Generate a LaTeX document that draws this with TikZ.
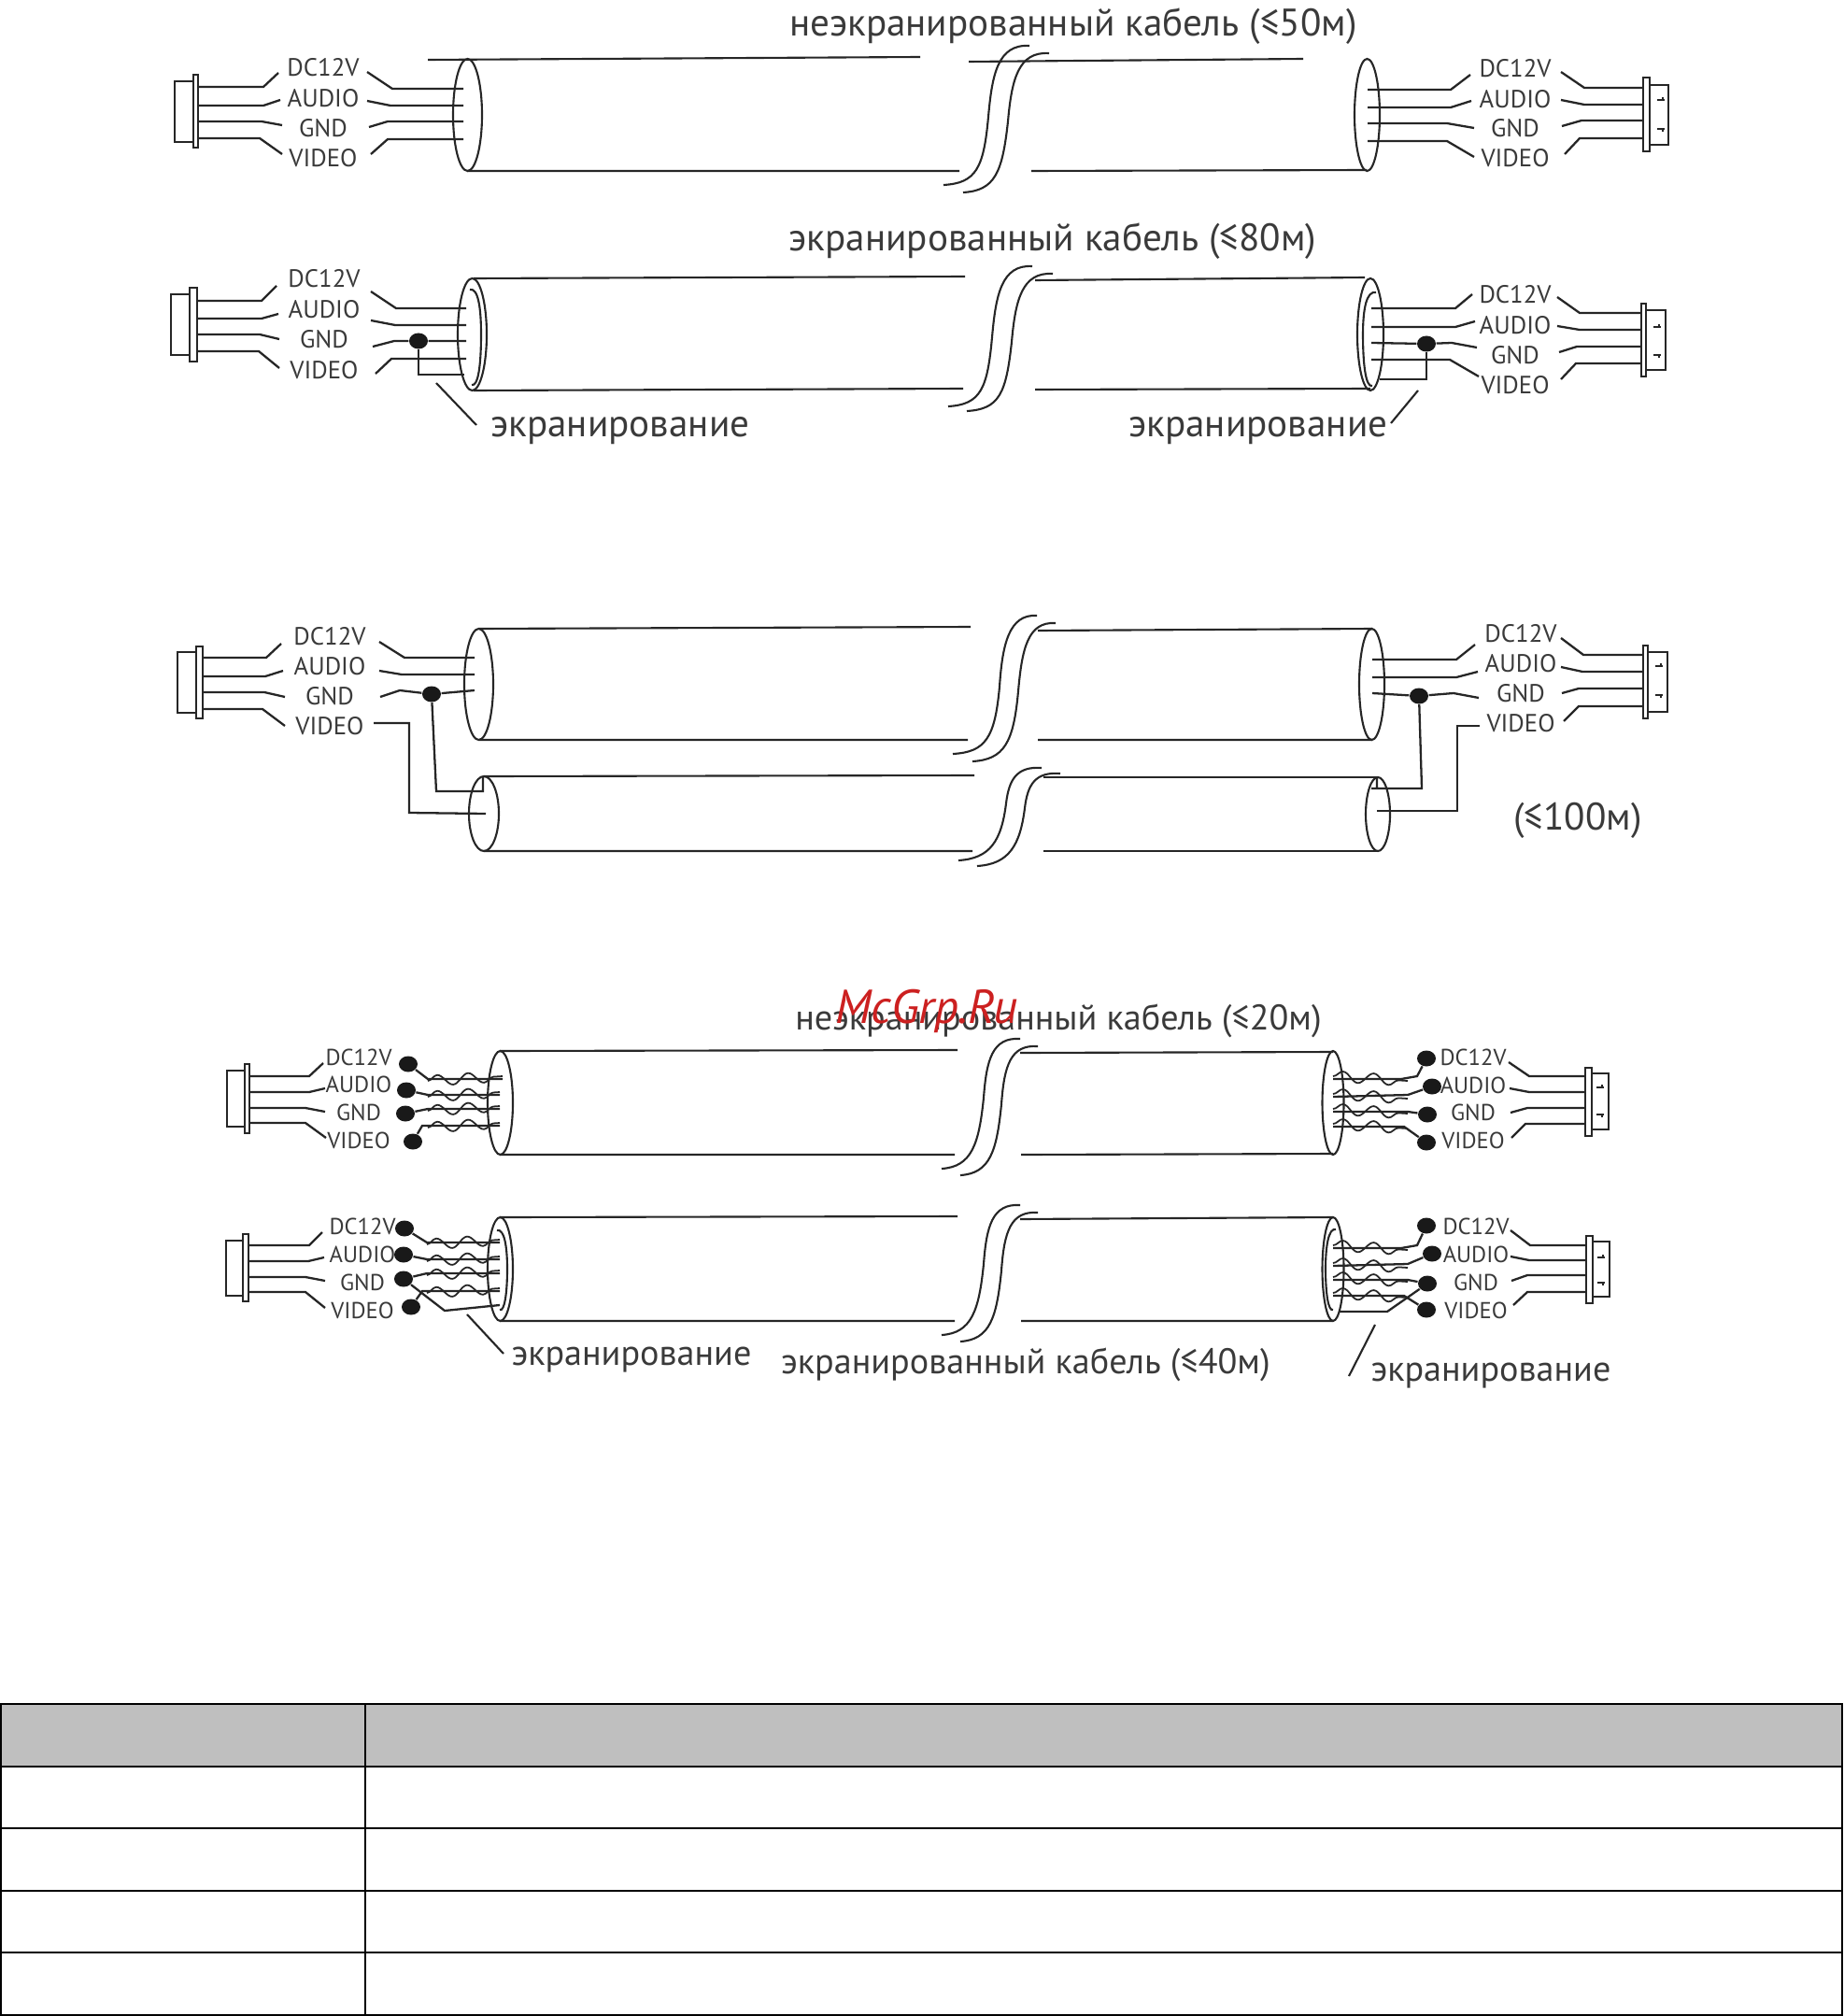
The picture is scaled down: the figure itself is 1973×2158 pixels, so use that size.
\documentclass[tikz,border=0pt]{standalone}
\usepackage{fontspec}
\setmainfont{PT Sans}
\usetikzlibrary{shapes.geometric,decorations.pathmorphing}
\definecolor{inkgrey}{HTML}{3A3A3A}
\definecolor{headgrey}{HTML}{BFBFBF}
\definecolor{markred}{HTML}{CC2020}
\tikzset{
  wire/.style={line width=0.65pt,color=black!85},
  cable/.style={line width=0.6pt,color=black!85},
  twist/.style={line width=0.5pt,color=black!85,decorate,decoration={snake,amplitude=1.6pt,segment length=9.4pt}},
  lbl/.style={inner sep=0pt,text=inkgrey,font=\fontsize{7.6}{9}\selectfont},
  lblsmall/.style={inner sep=0pt,text=inkgrey,font=\fontsize{7}{8}\selectfont},
  bigtext/.style={inner sep=0pt,text=inkgrey,font=\fontsize{11.7}{14}\selectfont},
  midtext/.style={inner sep=0pt,text=inkgrey,font=\fontsize{10.85}{13}\selectfont},
  solder/.style={ellipse,fill=black!90,inner sep=0pt,minimum width=0.2cm,minimum height=0.17cm},
  rule/.style={line width=0.6pt,color=black}
}
\begin{document}
\begin{tikzpicture}[x=0.01cm,y=-0.01cm]
\useasboundingbox (0,0) rectangle (1973,2158);

\node[bigtext] (titlea) at (1149,28) {неэкранированный кабель (≤50м)};
\draw[cable] (187,87) rectangle (207,152) (207,80) rectangle (212,158);
\draw[wire] (212,93)--(282,93)--(298,78) (212,113)--(282,113)--(300,107) (212,130)--(280,130)--(302,134) (212,148)--(278,148)--(302,165);
\node[lbl] (dca) at (346,72) {DC12V};
\node[lbl] (audioa) at (346,105) {AUDIO};
\node[lbl] (gnda) at (346,137) {GND};
\node[lbl] (videoa) at (346,169) {VIDEO};
\draw[wire] (393,77)--(420,95)--(496,95) (393,108)--(418,113)--(496,113) (395,136)--(415,130)--(496,130) (397,165)--(415,149)--(496,149);
\draw[cable] (500.5,123) ellipse (15.5 and 60);
\draw[cable] (458,64)--(985,61) (500,183)--(1027,183) (1037,66)--(1395,63) (1104,183)--(1463,182);
\draw[cable] (1102,49) .. controls (1068,47) and (1062,80) .. (1058,125) .. controls (1053,180) and (1045,196) .. (1010,198);
\draw[cable] (1123,57) .. controls (1090,55) and (1083,85) .. (1079,130) .. controls (1073,185) and (1065,204) .. (1031,206);
\draw[cable] (1463.5,123) ellipse (13.5 and 60);
\draw[wire] (1464,96)--(1553,96)--(1574,80) (1464,115)--(1553,115)--(1575,108) (1464,132)--(1549,132)--(1578,137) (1464,151)--(1549,151)--(1578,168);
\node[lbl] (dcb) at (1622,73) {DC12V};
\node[lbl] (audiob) at (1622,106) {AUDIO};
\node[lbl] (gndb) at (1622,137) {GND};
\node[lbl] (videob) at (1622,169) {VIDEO};
\draw[wire] (1671,77)--(1696,94)--(1759,94) (1671,107)--(1696,112)--(1759,112) (1672,135)--(1693,129)--(1759,129) (1675,165)--(1691,148)--(1759,148);
\draw[cable] (1759,83) rectangle (1766,162) (1766,91) rectangle (1786,155);
\draw[wire] (1774,107)--(1782,107) (1780,104)--(1780,107) (1774,138)--(1782,138) (1780,138)--(1780,141);

\node[bigtext] (titleb) at (1127,258) {экранированный кабель (≤80м)};
\draw[cable] (183,315) rectangle (203,380) (203,308) rectangle (211,387);
\draw[wire] (211,322)--(280,322)--(296,306) (211,341)--(280,341)--(298,336) (211,358)--(278,358)--(299,363) (211,376)--(277,376)--(299,394);
\node[lbl] (dcc) at (347,298) {DC12V};
\node[lbl] (audioc) at (347,331) {AUDIO};
\node[lbl] (gndc) at (347,363) {GND};
\node[lbl] (videoc) at (347,396) {VIDEO};
\node[solder] (dotc) at (448,365) {};
\draw[wire] (397,312)--(424,330)--(499,330) (397,343)--(423,348)--(499,348) (399,371)--(422,365)--(dotc)--(499,365) (402,400)--(419,384)--(499,384);
\draw[wire] (dotc)--(448,401)--(497,401);
\draw[cable] (505.5,358) ellipse (15.5 and 60);
\draw[cable] (503,310) .. controls (512,308) and (515,330) .. (515,358) .. controls (515,390) and (512,414) .. (505,412);
\draw[cable] (507,298)--(1033,296) (507,418)--(1031,416) (1108,300)--(1461,297) (1108,417)--(1467,416);
\draw[cable] (1105,285) .. controls (1072,283) and (1066,316) .. (1062,361) .. controls (1057,416) and (1050,433) .. (1015,435);
\draw[cable] (1127,293) .. controls (1094,291) and (1087,321) .. (1083,366) .. controls (1077,421) and (1070,438) .. (1035,440);
\draw[cable] (467,410)--(510,455);
\node[bigtext] (shieldc) at (664,461) {экранирование};
\draw[cable] (1467,358) ellipse (14 and 60);
\draw[cable] (1473,313) .. controls (1463,311) and (1459,330) .. (1459,358) .. controls (1459,390) and (1462,415) .. (1469,413);
\node[solder] (dotd) at (1527,368) {};
\draw[wire] (1468,330)--(1558,330)--(1576,315) (1468,350)--(1558,350)--(1579,344) (1468,367)--(dotd)--(1554,367)--(1581,372) (1468,385)--(1552,385)--(1583,403);
\draw[wire] (dotd)--(1527,406)--(1477,406);
\draw[cable] (1518,418)--(1489,453);
\node[bigtext] (shieldd) at (1347,461) {экранирование};
\node[lbl] (dcd) at (1622,315) {DC12V};
\node[lbl] (audiod) at (1622,348) {AUDIO};
\node[lbl] (gndd) at (1622,380) {GND};
\node[lbl] (videod) at (1622,412) {VIDEO};
\draw[wire] (1667,318)--(1691,335)--(1757,335) (1667,349)--(1691,353)--(1757,353) (1669,377)--(1688,371)--(1757,371) (1671,406)--(1687,389)--(1757,389);
\draw[cable] (1757,325) rectangle (1762,403) (1762,332) rectangle (1783,396);
\draw[wire] (1770,350)--(1778,350) (1776,347)--(1776,350) (1770,380)--(1778,380) (1776,380)--(1776,383);

\draw[cable] (190,698) rectangle (210,763) (210,692) rectangle (217,769);
\draw[wire] (217,704)--(285,704)--(301,689) (217,724)--(284,724)--(303,718) (217,741)--(283,741)--(305,746) (217,759)--(281,759)--(305,777);
\node[lbl] (dce) at (353,681) {DC12V};
\node[lbl] (audioe) at (353,713) {AUDIO};
\node[lbl] (gnde) at (353,745) {GND};
\node[lbl] (videoe) at (353,777) {VIDEO};
\node[solder] (dote) at (462,743) {};
\draw[wire] (406,687)--(433,704)--(508,704) (406,718)--(430,722)--(508,722) (407,746)--(428,739)--(dote)--(508,739);
\draw[wire] (dote)--(467,847)--(517,847)--(517,832);
\draw[wire] (400,774)--(438,774)--(438,870)--(520,871);
\draw[cable] (512.5,732.5) ellipse (15.5 and 59.5);
\draw[cable] (518,871) ellipse (16 and 40);
\draw[cable] (513,673)--(1039,671) (513,792)--(1036,792) (518,831)--(1043,830) (518,911)--(1041,911);
\draw[cable] (1110,659) .. controls (1080,657) and (1073,690) .. (1070,735) .. controls (1065,790) and (1055,805) .. (1020,807);
\draw[cable] (1130,667) .. controls (1100,665) and (1094,695) .. (1090,740) .. controls (1085,795) and (1075,813) .. (1041,815);
\draw[cable] (1111,675)--(1469,673) (1111,792)--(1469,792);
\draw[cable] (1468.5,732.5) ellipse (13.5 and 59.5);
\node[solder] (dotf) at (1519,745) {};
\draw[wire] (1469,706)--(1559,706)--(1579,690) (1469,725)--(1559,725)--(1582,719) (1469,742)--(dotf)--(1556,742)--(1583,747);
\draw[wire] (dotf)--(1522,844)--(1468,844) (1474,832)--(1474,844);
\draw[wire] (1584,777)--(1560,777)--(1560,868)--(1474,868);
\node[lbl] (dcf) at (1628,678) {DC12V};
\node[lbl] (audiof) at (1628,710) {AUDIO};
\node[lbl] (gndf) at (1628,742) {GND};
\node[lbl] (videof) at (1628,774) {VIDEO};
\draw[wire] (1671,683)--(1695,701)--(1759,701) (1671,714)--(1694,719)--(1759,719) (1672,742)--(1690,737)--(1759,737) (1674,772)--(1690,756)--(1759,756);
\draw[cable] (1759,691) rectangle (1764,769) (1764,698) rectangle (1785,762);
\draw[wire] (1772,713)--(1780,713) (1778,710)--(1778,713) (1772,744)--(1780,744) (1778,744)--(1778,747);
\draw[cable] (1115,822) .. controls (1088,820) and (1080,835) .. (1077,860) .. controls (1072,900) and (1060,919) .. (1026,921);
\draw[cable] (1135,828) .. controls (1108,826) and (1100,840) .. (1097,865) .. controls (1092,905) and (1080,925) .. (1046,927);
\draw[cable] (1117,832)--(1475,832) (1117,911)--(1475,911);
\draw[cable] (1475,871.5) ellipse (13 and 39.5);
\node[bigtext] (rangef) at (1689,878) {(≤100м)};

\node[midtext] (titleg) at (1133,1093) {неэкранированный кабель (≤20м)};
\node[inner sep=0pt,text=markred,font=\fontsize{14.5}{17}\selectfont\itshape] (mark) at (992,1082) {McGrp.Ru};
\draw[cable] (243,1146) rectangle (262,1206) (262,1139) rectangle (267,1213);
\draw[wire] (267,1152)--(331,1152)--(346,1138) (267,1169)--(331,1169)--(348,1165) (267,1186)--(327,1186)--(348,1190) (267,1202)--(327,1202)--(349,1218);
\node[lblsmall] (dcg) at (384,1132) {DC12V};
\node[lblsmall] (audiog) at (384,1161) {AUDIO};
\node[lblsmall] (gndg) at (384,1191) {GND};
\node[lblsmall] (videog) at (384,1221) {VIDEO};
\node[solder] (dotga) at (437,1139) {};
\node[solder] (dotgb) at (435,1167) {};
\node[solder] (dotgc) at (434,1192) {};
\node[solder] (dotgd) at (442,1222) {};
\draw[wire] (dotga)--(458,1155)--(538,1155) (dotgb)--(458,1172)--(535,1172) (dotgc)--(458,1187)--(535,1187) (dotgd)--(452,1205)--(535,1205);
\draw[twist] (458,1157)--(538,1152);
\draw[twist] (458,1174)--(535,1169);
\draw[twist] (458,1189)--(535,1184);
\draw[twist] (458,1207)--(535,1202);
\draw[cable] (535.5,1180.5) ellipse (13.5 and 55.5);
\draw[cable] (535,1125)--(1025,1124) (535,1236)--(1022,1236) (1092,1127)--(1427,1126) (1093,1236)--(1427,1235);
\draw[cable] (1092,1112) .. controls (1062,1110) and (1056,1135) .. (1053,1175) .. controls (1048,1225) and (1040,1249) .. (1008,1251);
\draw[cable] (1111,1120) .. controls (1082,1118) and (1075,1140) .. (1072,1182) .. controls (1067,1232) and (1060,1256) .. (1028,1258);
\draw[cable] (1427,1180.5) ellipse (11.5 and 55.5);
\node[solder] (dotha) at (1527,1133) {};
\node[solder] (dothb) at (1533,1163) {};
\node[solder] (dothc) at (1528,1193) {};
\node[solder] (dothd) at (1527,1223) {};
\draw[wire] (1427,1155)--(1500,1155)--(1517,1152)--(dotha) (1427,1174)--(1507,1172)--(dothb) (1427,1190)--(1507,1190)--(dothc) (1427,1206)--(1503,1206)--(dothd);
\draw[twist] (1427,1152)--(1507,1157);
\draw[twist] (1427,1171)--(1507,1176);
\draw[twist] (1427,1187)--(1507,1192);
\draw[twist] (1427,1203)--(1507,1208);
\node[lblsmall] (dch) at (1577,1132) {DC12V};
\node[lblsmall] (audioh) at (1577,1162) {AUDIO};
\node[lblsmall] (gndh) at (1577,1191) {GND};
\node[lblsmall] (videoh) at (1577,1221) {VIDEO};
\draw[wire] (1615,1137)--(1637,1152)--(1697,1152) (1616,1165)--(1637,1169)--(1697,1169) (1617,1191)--(1635,1186)--(1697,1186) (1618,1218)--(1633,1203)--(1697,1203);
\draw[cable] (1697,1143) rectangle (1704,1216) (1704,1149) rectangle (1722,1209);
\draw[wire] (1709,1164)--(1717,1164) (1715,1161)--(1715,1164) (1709,1193)--(1717,1193) (1715,1193)--(1715,1196);

\draw[cable] (242,1328) rectangle (260,1387) (260,1321) rectangle (266,1393);
\draw[wire] (266,1333)--(331,1333)--(345,1319) (266,1350)--(330,1350)--(347,1346) (266,1367)--(327,1367)--(348,1371) (266,1383)--(327,1383)--(348,1400);
\node[lblsmall] (dci) at (388,1313) {DC12V};
\node[lblsmall] (audioi) at (388,1343) {AUDIO};
\node[lblsmall] (gndi) at (388,1373) {GND};
\node[lblsmall] (videoi) at (388,1403) {VIDEO};
\node[solder] (dotia) at (433,1315) {};
\node[solder] (dotib) at (432,1343) {};
\node[solder] (dotic) at (432,1369) {};
\node[solder] (dotid) at (440,1399) {};
\draw[wire] (dotia)--(457,1330)--(535,1330) (dotib)--(457,1348)--(535,1348) (dotic)--(457,1363)--(535,1363) (dotid)--(452,1382)--(535,1382);
\draw[twist] (457,1332)--(535,1327);
\draw[twist] (457,1350)--(535,1345);
\draw[twist] (457,1365)--(535,1360);
\draw[twist] (457,1384)--(535,1379);
\draw[wire] (dotic)--(476,1403)--(535,1397);
\draw[cable] (535.5,1358.5) ellipse (13.5 and 55.5);
\draw[cable] (532,1317) .. controls (540,1315) and (543,1335) .. (543,1358) .. controls (543,1385) and (540,1404) .. (535,1402);
\draw[cable] (535,1303)--(1025,1302) (535,1414)--(1022,1414) (1092,1305)--(1427,1303) (1093,1414)--(1427,1414);
\draw[cable] (1092,1290) .. controls (1062,1288) and (1056,1313) .. (1053,1353) .. controls (1048,1403) and (1040,1427) .. (1008,1429);
\draw[cable] (1111,1298) .. controls (1082,1296) and (1075,1318) .. (1072,1360) .. controls (1067,1410) and (1060,1434) .. (1028,1436);
\draw[cable] (1427,1358.5) ellipse (11.5 and 55.5);
\draw[cable] (1430,1316) .. controls (1422,1314) and (1419,1335) .. (1419,1358) .. controls (1419,1385) and (1422,1404) .. (1427,1402);
\draw[cable] (500,1407)--(539,1449);
\node[midtext] (shieldi) at (676,1456) {экранирование};
\node[midtext] (titlei) at (1098,1461) {экранированный кабель (≤40м)};
\draw[cable] (1472,1418)--(1444,1473);
\node[midtext] (shieldj) at (1596,1473) {экранирование};
\node[solder] (dotja) at (1527,1312) {};
\node[solder] (dotjb) at (1533,1342) {};
\node[solder] (dotjc) at (1528,1374) {};
\node[solder] (dotjd) at (1527,1402) {};
\draw[wire] (1427,1336)--(1500,1336)--(1517,1333)--(dotja) (1427,1355)--(1507,1353)--(dotjb) (1427,1370)--(1507,1370)--(dotjc) (1427,1387)--(1503,1387)--(dotjd);
\draw[twist] (1427,1333)--(1507,1338);
\draw[twist] (1427,1352)--(1507,1357);
\draw[twist] (1427,1367)--(1507,1372);
\draw[twist] (1427,1384)--(1507,1389);
\draw[wire] (1433,1404)--(1485,1404)--(dotjc);
\node[lblsmall] (dcj) at (1580,1313) {DC12V};
\node[lblsmall] (audioj) at (1580,1343) {AUDIO};
\node[lblsmall] (gndj) at (1580,1373) {GND};
\node[lblsmall] (videoj) at (1580,1403) {VIDEO};
\draw[wire] (1617,1317)--(1638,1333)--(1698,1333) (1617,1345)--(1637,1349)--(1698,1349) (1618,1371)--(1635,1365)--(1698,1365) (1620,1397)--(1635,1383)--(1698,1383);
\draw[cable] (1698,1323) rectangle (1705,1395) (1705,1329) rectangle (1723,1388);
\draw[wire] (1710,1346)--(1718,1346) (1716,1343)--(1716,1346) (1710,1373)--(1718,1373) (1716,1373)--(1716,1376);

\fill[headgrey] (1,1824) rectangle (1972,1891);
\draw[rule] (1,1824) rectangle (1972,2157);
\draw[rule] (1,1891)--(1972,1891) (1,1957)--(1972,1957) (1,2024)--(1972,2024) (1,2090)--(1972,2090) (391,1824)--(391,2157);
\end{tikzpicture}
\end{document}
